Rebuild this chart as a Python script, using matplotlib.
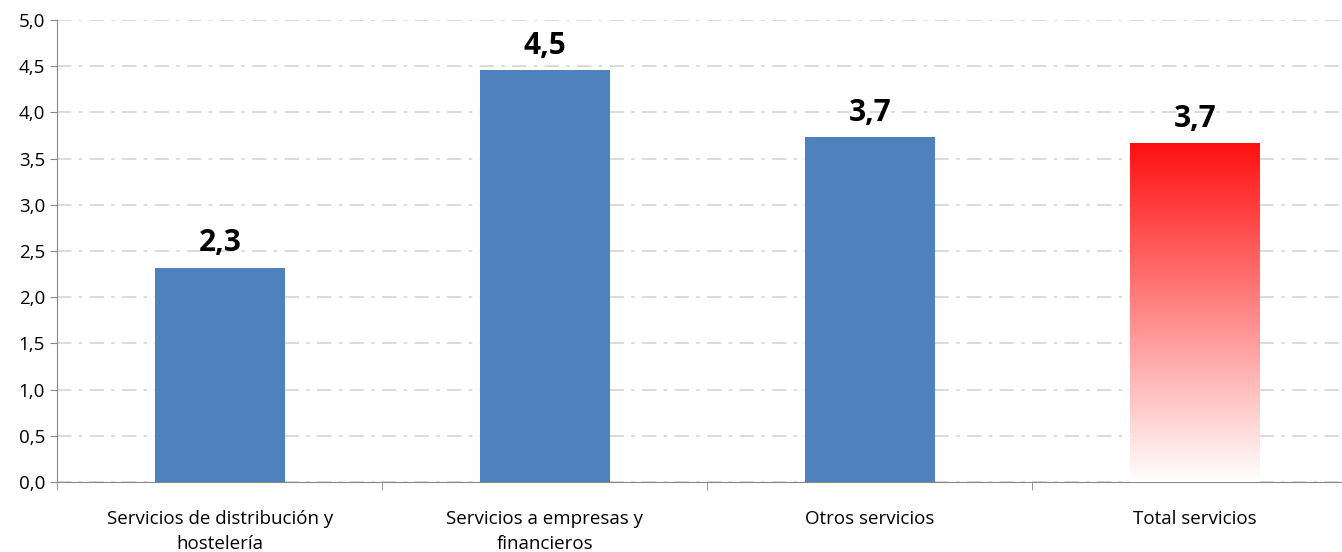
import numpy as np
import matplotlib.pyplot as plt
from matplotlib.colors import LinearSegmentedColormap
from matplotlib.ticker import FuncFormatter, MultipleLocator

categories = ["Servicios de distribución y\nhostelería",
              "Servicios a empresas y\nfinancieros",
              "Otros servicios",
              "Total servicios"]
values = [2.32, 4.46, 3.73, 3.67]
labels = ["2,3", "4,5", "3,7", "3,7"]

plt.rcParams['font.family'] = ['Open Sans', 'DejaVu Sans']

fig = plt.figure(figsize=(13.42, 5.52), dpi=100)
ax = fig.add_axes([0.0428, 0.1268, 0.9687, 0.837])

x = np.arange(len(categories))
bars = ax.bar(x[:3], values[:3], width=0.4, color='#4F81BD', zorder=3)

# gradient bar for the total
total = ax.bar(x[3], values[3], width=0.4, color='none', zorder=3)[0]
cmap = LinearSegmentedColormap.from_list('rw', ['#FFFFFF', '#FF1010'])
grad = np.linspace(0, 1, 256).reshape(-1, 1)
im = ax.imshow(grad, cmap=cmap, aspect='auto', origin='lower', zorder=3,
               extent=[x[3] - 0.2, x[3] + 0.2, 0, values[3]])
im.set_clip_path(total)

for xi, v, lab in zip(x, values, labels):
    ax.text(xi, v + 0.1, lab, ha='center', va='bottom', fontsize=21.5,
            fontweight='bold', color='black')

ax.set_xlim(-0.5, 3.5)
ax.set_ylim(0, 5)
ax.yaxis.set_major_locator(MultipleLocator(0.5))
ax.yaxis.set_major_formatter(FuncFormatter(lambda v, p: f"{v:.1f}".replace('.', ',')))
ax.grid(axis='y', color='#D9D9D9', linestyle=(0, (8, 4, 2, 4)), linewidth=1.3, zorder=0)

ax.set_xticks(x)
ax.set_xticklabels(categories, fontsize=13.5, linespacing=1.55, multialignment='center')
ax.set_xticks(np.arange(-0.5, 4.0, 1.0), minor=True)
ax.tick_params(axis='x', which='major', length=0, pad=20)
ax.tick_params(axis='x', which='minor', length=6, color='#888888')
ax.tick_params(axis='y', length=5, color='#888888', labelsize=13.5, pad=4)

for s in ['top', 'right']:
    ax.spines[s].set_visible(False)
for s in ['left', 'bottom']:
    ax.spines[s].set_color('#888888')

fig.savefig('out.png', dpi=100)
